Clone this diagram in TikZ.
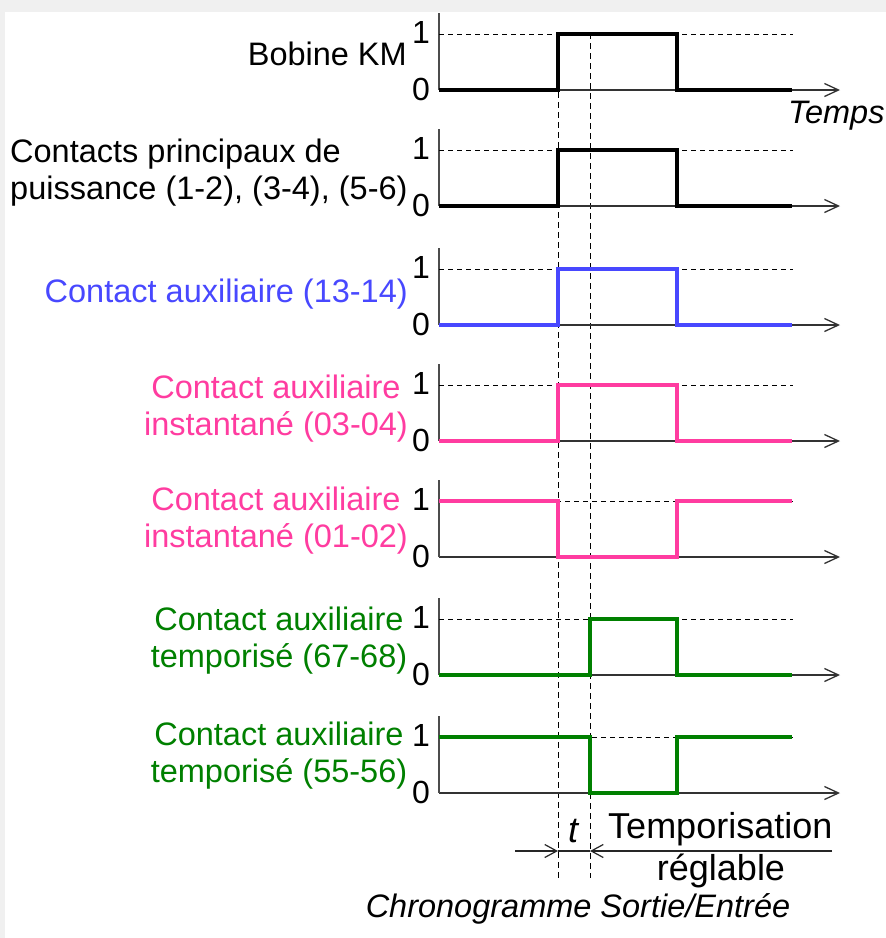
\documentclass[tikz,border=0pt]{standalone}
\usepackage{fontspec}
\setmainfont{Liberation Sans}
\usepackage{tikz}
\usetikzlibrary{arrows.meta, positioning}

\definecolor{bleu}{RGB}{72,72,255}
\definecolor{rose}{RGB}{255,60,160}
\definecolor{vert}{RGB}{0,128,0}

\tikzset{
  axe/.style={draw=black!80, line width=1.3pt, -{Straight Barb[length=14pt,width=13pt]}},
  montant/.style={draw=black!70, line width=1.3pt},
  niveau/.style={draw=black, line width=0.9pt, dash pattern=on 5pt off 4pt},
  repere/.style={draw=black, line width=1pt, dash pattern=on 6pt off 4pt},
  signal/.style={line width=4pt, line join=miter},
  cote/.style={draw=black!85, line width=1.2pt, -{Straight Barb[length=12pt,width=13pt]}},
  chiffre/.style={inner sep=0pt, font=\fontsize{32}{36}\selectfont},
  etiquette/.style={inner sep=0pt, align=center, font=\fontsize{32.5}{37}\selectfont},
  legende/.style={inner sep=0pt, font=\fontsize{32.5}{37}\selectfont}
}

\begin{document}
\begin{tikzpicture}[x=1pt, y=-1pt]
  \useasboundingbox (0,0) rectangle (886,938);
  \fill[black!6] (0,0) rectangle (886,938);
  \fill[white] (5,12) rectangle (886,938);

  % reperes verticaux
  \coordinate (r1h) at (558,92);
  \coordinate (r1b) at (558,878);
  \coordinate (r2h) at (590,33);
  \coordinate (r2b) at (590,878);
  \draw[repere] (r1h) -- (r1b);
  \draw[repere] (r2h) -- (r2b);

  % axes des sept chronogrammes
  \foreach \y in {90,206,325,441,557,675,793} {
    \draw[axe] (439,\y) -- (840,\y);
    \draw[montant] (439,\y-77) -- (439,\y);
    \draw[niveau] (439,\y-56) -- (793,\y-56);
    \node[chiffre] at (421,\y-58) {1};
    \node[chiffre] at (421,\y-1) {0};
  }

  % signaux
  \draw[signal, black] (439,90) -- (558,90) -- (558,34) -- (677,34) -- (677,90) -- (792,90);
  \draw[signal, black] (439,206) -- (558,206) -- (558,150) -- (677,150) -- (677,206) -- (792,206);
  \draw[signal, bleu] (439,325) -- (558,325) -- (558,269) -- (677,269) -- (677,325) -- (792,325);
  \draw[signal, rose] (439,441) -- (558,441) -- (558,385) -- (677,385) -- (677,441) -- (792,441);
  \draw[signal, rose] (439,501) -- (558,501) -- (558,557) -- (677,557) -- (677,501) -- (792,501);
  \draw[signal, vert] (439,675) -- (590,675) -- (590,619) -- (677,619) -- (677,675) -- (792,675);
  \draw[signal, vert] (439,737) -- (590,737) -- (590,793) -- (677,793) -- (677,737) -- (792,737);

  % etiquettes
  \node (bobine) at (407,65) [etiquette, anchor=base east] {Bobine KM};
  \node (puiss) at (10,138.7) [etiquette, align=left, anchor=north west] {Contacts principaux de\\puissance (1-2), (3-4), (5-6)};
  \node (aux) at (408,302) [etiquette, anchor=base east, text=bleu] {Contact auxiliaire (13-14)};
  \node (inst34) at (276,374.7) [etiquette, anchor=north, text=rose] {Contact auxiliaire\\instantané (03-04)};
  \node (inst12) at (276,486.7) [etiquette, anchor=north, text=rose] {Contact auxiliaire\\instantané (01-02)};
  \node (temp67) at (279,606.7) [etiquette, anchor=north, text=vert] {Contact auxiliaire\\temporisé (67-68)};
  \node (temp55) at (279,721.7) [etiquette, anchor=north, text=vert] {Contact auxiliaire\\temporisé (55-56)};
  \node (temps) at (788,123) [legende, anchor=base west, font=\fontsize{32.5}{37}\selectfont\itshape] {Temps};

  % temporisation
  \coordinate (t1) at (558,851);
  \coordinate (t2) at (590,851);
  \coordinate (tg) at (515,851);
  \coordinate (td) at (832,851);
  \draw[cote] (tg) -- (t1);
  \draw[draw=black!85, line width=1.2pt] (t1) -- (t2);
  \draw[cote] (td) -- (t2);
  \node (t) at (573,842) [legende, anchor=base, font=\fontsize{36}{40}\selectfont\itshape] {t};
  \node (tempo) at (608,838) [legende, anchor=base west, font=\fontsize{36}{40}\selectfont] {Temporisation};
  \node (regl) at (721,880) [legende, anchor=base, font=\fontsize{36}{40}\selectfont] {réglable};
  \node (titre) at (578,917) [legende, anchor=base, font=\fontsize{32.5}{37}\selectfont\itshape] {Chronogramme Sortie/Entrée};
\end{tikzpicture}
\end{document}
